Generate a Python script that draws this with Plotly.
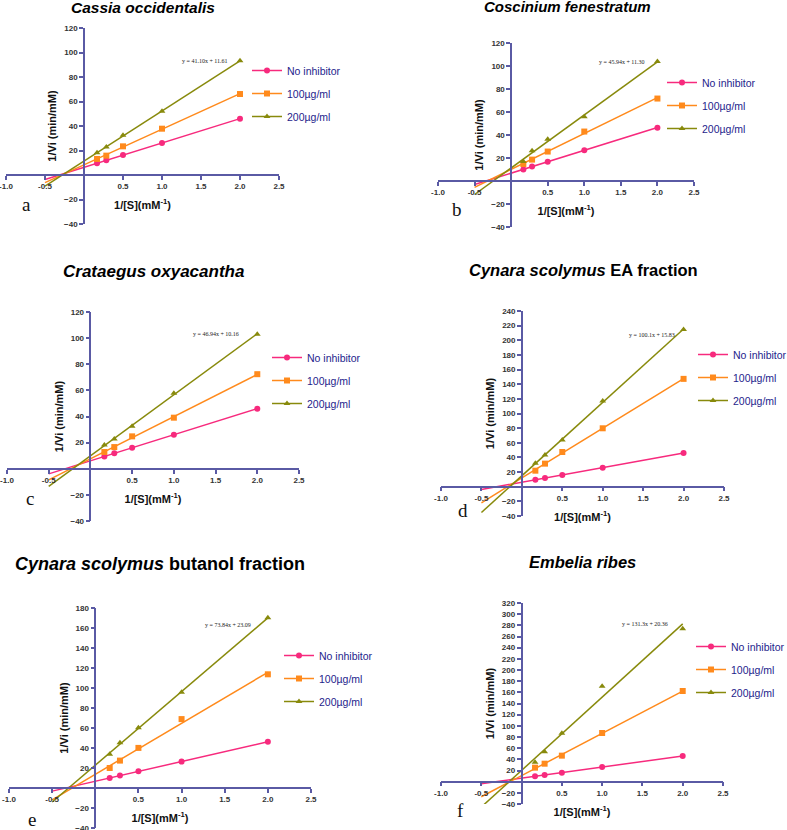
import numpy as np
import plotly.graph_objects as go

# ---------------- data ----------------
substrate_inv = [0.167, 0.286, 0.5, 1.0, 2.0]
series_labels = ["No inhibitor", "100µg/ml", "200µg/ml"]

cassia_no = [9.5, 12.0, 16.3, 26.1, 46.0]
cassia_100 = [13.1, 15.8, 23.4, 37.8, 66.1]
cassia_200 = [18.2, 22.9, 32.4, 52.0, 93.3]

coscinium_no = [10.0, 12.6, 16.7, 26.8, 46.4]
coscinium_100 = [14.8, 18.6, 25.6, 43.0, 71.7]
coscinium_200 = [16.9, 26.2, 36.3, 55.8, 104.0]

crataegus_no = [9.4, 11.8, 16.0, 26.0, 46.0]
crataegus_100 = [12.8, 16.6, 24.8, 39.1, 72.4]
crataegus_200 = [18.2, 22.8, 32.5, 57.8, 103.0]

cynara_ea_no = [9.6, 11.9, 16.0, 26.0, 46.0]
cynara_ea_100 = [21.9, 31.5, 47.4, 79.8, 147.3]
cynara_ea_200 = [31.9, 43.3, 63.8, 117.2, 214.8]

cynara_bu_no = [10.0, 12.4, 16.7, 26.4, 46.2]
cynara_bu_100 = [20.0, 27.4, 40.1, 68.9, 113.7]
cynara_bu_200 = [33.8, 45.2, 60.2, 95.7, 170.3]

embelia_no = [9.6, 11.9, 16.1, 26.3, 46.0]
embelia_100 = [25.1, 32.2, 46.6, 87.2, 162.4]
embelia_200 = [34.6, 53.7, 86.6, 170.7, 274.0]

panel_titles = [
    "<b><i>Cassia occidentalis</i></b>",
    "<b><i>Coscinium fenestratum</i></b>",
    "<b><i>Crataegus oxyacantha</i></b>",
    "<b><i>Cynara scolymus</i> EA fraction</b>",
    "<b><i>Cynara scolymus</i> butanol fraction</b>",
    "<b><i>Embelia ribes</i></b>",
]
equations = [
    "y = 41.10x + 11.61",
    "y = 45.94x + 11.30",
    "y = 46.94x + 10.16",
    "y = 100.1x + 15.83",
    "y = 73.84x + 23.09",
    "y = 131.3x + 20.36",
]
panel_letters = ["a", "b", "c", "d", "e", "f"]
y_ranges = [(-40, 120), (-40, 120), (-40, 120), (-40, 240), (-40, 180), (-40, 320)]
x_range = (-1.0, 2.5)
x_ticks = [-1.0, -0.5, 0.5, 1.0, 1.5, 2.0, 2.5]
fit_x = [-0.5, 2.0]

panel_series = [
    [cassia_no, cassia_100, cassia_200],
    [coscinium_no, coscinium_100, coscinium_200],
    [crataegus_no, crataegus_100, crataegus_200],
    [cynara_ea_no, cynara_ea_100, cynara_ea_200],
    [cynara_bu_no, cynara_bu_100, cynara_bu_200],
    [embelia_no, embelia_100, embelia_200],
]

# ---------------- styling / layout geometry (pixels) ----------------
W, H = 787, 830
colors = ["#F72A7D", "#FF8A1C", "#888A0C"]
symbols = ["circle", "square", "triangle-up"]
axis_col = "#5A5AA4"
legend_col = "#1E1E8C"

# x0/x1: pixel of x=-1 / x=2.5; yt/yb: pixel of top / bottom tick
# lt: legend text left; ly: first legend row centre
geo = [
    dict(x0=6, x1=279, yt=28, yb=224, tx=143, ty=7, ts=15.5, lt=287, ly=71, ax=26, ay=204, ex=-10, ey=0),
    dict(x0=438, x1=694, yt=43, yb=227, tx=567, ty=6, ts=15, lt=702, ly=83, ax=457, ay=209, ex=-10, ey=0),
    dict(x0=7, x1=299, yt=312, yb=521, tx=153, ty=271, ts=17, lt=307, ly=358, ax=30, ay=498, ex=-16, ey=0),
    dict(x0=441, x1=724, yt=311, yb=516, tx=583, ty=270, ts=16.5, lt=733, ly=355, ax=463, ay=510, ex=-7, ey=-6),
    dict(x0=9, x1=311, yt=608, yb=828, tx=160, ty=564, ts=18, lt=319, ly=656, ax=32, ay=819, ex=-15, ey=-7),
    dict(x0=441, x1=723, yt=603, yb=804, tx=582, ty=562, ts=16.5, lt=731, ly=647, ax=460, ay=810, ex=-13, ey=0),
]

fig = go.Figure()
annotations = []
layout_axes = {}

for i, (series, g) in enumerate(zip(panel_series, geo)):
    n = i + 1
    xa = "x" if n == 1 else f"x{n}"
    ya = "y" if n == 1 else f"y{n}"
    leg = "legend" if n == 1 else f"legend{n}"
    ymin, ymax = y_ranges[i]

    xd = [g["x0"] / W, g["x1"] / W]
    yd = [1 - g["yb"] / H, 1 - g["yt"] / H]
    xpos0 = xd[0] + (0 - x_range[0]) / (x_range[1] - x_range[0]) * (xd[1] - xd[0])
    ypos0 = yd[0] + (0 - ymin) / (ymax - ymin) * (yd[1] - yd[0])

    last_fit = None
    for k, yvals in enumerate(series):
        slope, icpt = np.polyfit(substrate_inv, yvals, 1)
        fy = [slope * xv + icpt for xv in fit_x]
        if k == 2:
            last_fit = fy[-1]
        fig.add_trace(go.Scatter(x=fit_x, y=fy, mode="lines", xaxis=xa, yaxis=ya,
                                 line=dict(color=colors[k], width=1.5),
                                 showlegend=False, hoverinfo="skip"))
        fig.add_trace(go.Scatter(x=substrate_inv, y=yvals, mode="markers", xaxis=xa, yaxis=ya,
                                 marker=dict(color=colors[k], symbol=symbols[k], size=6),
                                 showlegend=False))
        fig.add_trace(go.Scatter(x=[None], y=[None], mode="lines+markers", xaxis=xa, yaxis=ya,
                                 name=series_labels[k], legend=leg, legendgroup=f"g{n}{k}",
                                 line=dict(color=colors[k], width=1.5),
                                 marker=dict(color=colors[k], symbol=symbols[k], size=6)))

    ytick_vals = [v for v in range(ymin, ymax + 1, 20) if v != 0]
    layout_axes["xaxis" if n == 1 else f"xaxis{n}"] = dict(
        domain=xd, range=list(x_range), anchor="free", position=ypos0,
        tickvals=x_ticks, ticktext=[f"{v:.1f}" for v in x_ticks],
        showline=True, linecolor=axis_col, linewidth=1.5, ticks="outside",
        ticklen=4, tickwidth=1.5, tickcolor=axis_col, showgrid=False, zeroline=False,
        ticklabeloverflow="allow",
        tickfont=dict(family="Liberation Sans, Arial", size=8, color="#333333", weight="bold"),
        title=dict(text="1/[S](mM<sup>-1</sup>)", standoff=10,
                   font=dict(family="Liberation Sans, Arial", size=11, color="#111111", weight="bold")),
    )
    layout_axes["yaxis" if n == 1 else f"yaxis{n}"] = dict(
        domain=yd, range=[ymin, ymax], anchor="free", position=xpos0,
        tickvals=ytick_vals,
        showline=True, linecolor=axis_col, linewidth=1.5, ticks="outside",
        ticklen=4, tickwidth=1.5, tickcolor=axis_col, showgrid=False, zeroline=False,
        ticklabeloverflow="allow",
        tickfont=dict(family="Liberation Sans, Arial", size=8, color="#333333", weight="bold"),
        title=dict(text="1/Vi (min/mM)", standoff=4,
                   font=dict(family="Liberation Sans, Arial", size=11, color="#111111", weight="bold")),
    )
    layout_axes[leg] = dict(
        x=(g["lt"] - 40) / W, y=1 - (g["ly"] - 15) / H, xanchor="left", yanchor="top",
        xref="paper", yref="paper", bgcolor="rgba(0,0,0,0)", borderwidth=0,
        font=dict(family="Liberation Sans, Arial", size=10.5, color=legend_col),
        tracegroupgap=4, traceorder="grouped", itemwidth=30,
    )

    annotations.append(dict(text=panel_titles[i], x=g["tx"] / W, y=1 - g["ty"] / H,
                            xref="paper", yref="paper", xanchor="center", yanchor="middle",
                            showarrow=False,
                            font=dict(family="Liberation Sans, Arial", size=g["ts"], color="#000000")))
    annotations.append(dict(text=panel_letters[i], x=g["ax"] / W, y=1 - g["ay"] / H,
                            xref="paper", yref="paper", xanchor="center", yanchor="middle",
                            showarrow=False,
                            font=dict(family="Liberation Serif, Times New Roman", size=19, color="#111111")))
    annotations.append(dict(text=equations[i], x=fit_x[-1], y=last_fit, xref=xa, yref=ya,
                            xanchor="right", yanchor="middle", xshift=g["ex"], yshift=g["ey"],
                            showarrow=False,
                            font=dict(family="Liberation Serif, Times New Roman", size=6, color="#222222")))

fig.update_layout(
    width=W, height=H,
    margin=dict(l=0, r=0, t=0, b=0, autoexpand=False),
    paper_bgcolor="white", plot_bgcolor="rgba(0,0,0,0)",
    annotations=annotations,
    **layout_axes,
)

fig.write_html("out.html", config={"displayModeBar": False},
               post_script="document.body.style.margin='0';document.body.style.overflow='hidden';")
